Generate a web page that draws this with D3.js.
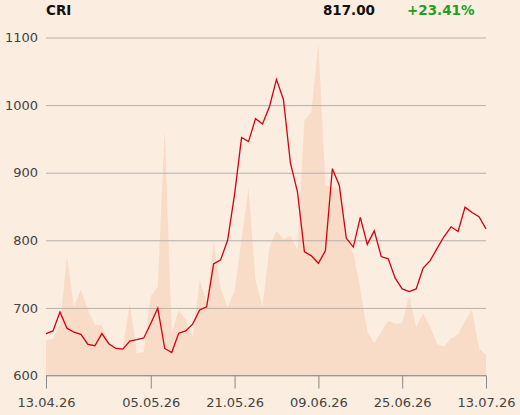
<!DOCTYPE html>
<html><head><meta charset="utf-8">
<script src="https://cdn.jsdelivr.net/npm/d3@7"></script>
<style>html,body{margin:0;padding:0;background:#fbede0;}svg{display:block;}</style>
</head><body>
<script>
const dates = ["13.04.26","14.04.26","15.04.26","16.04.26","17.04.26","20.04.26","21.04.26","22.04.26","23.04.26","24.04.26","27.04.26","28.04.26","29.04.26","30.04.26",
"04.05.26","05.05.26","06.05.26","07.05.26","08.05.26","11.05.26","12.05.26","13.05.26","14.05.26","15.05.26","18.05.26","19.05.26","20.05.26","21.05.26","22.05.26",
"26.05.26","27.05.26","28.05.26","29.05.26","01.06.26","02.06.26","03.06.26","04.06.26","05.06.26","08.06.26","09.06.26","10.06.26","11.06.26","12.06.26",
"15.06.26","16.06.26","17.06.26","18.06.26","19.06.26","22.06.26","23.06.26","24.06.26","25.06.26","26.06.26","29.06.26","30.06.26","01.07.26","02.07.26","03.07.26",
"06.07.26","07.07.26","08.07.26","09.07.26","10.07.26","13.07.26"];
const price = [662,666,694,670,664,661,646,644,662,647,640,639,651,653,655.5,677,699.5,640,634,662.5,666,676,697,701.5,765,771,800,868,952,946,980,972,998,1038,1008,914,872,783,777,766,784.5,906,881,803,790,834,794,814,776,772.6,744,728,724,728,759,770,788,805.6,820,813,849,841,835,817];
const volume = [104,107,149,351,202,254,193,149,146,96,87,81,213,66,69,234,260,722,124,191,165,114,281,217,391,256,201,246,399,551,281,202,377,425,401,410,369,751,776,979,560,555,546,408,359,256,129,95,129,161,152,154,234,142,183,144,93,85,109,121,160,193,80,60];
const yTicks = [600,700,800,900,1000,1100];
const xTickLabels = ["13.04.26","05.05.26","21.05.26","09.06.26","25.06.26","13.07.26"];
const title = "CRI", lastValue = "817.00", change = "+23.41%";

const W=520,H=415, mLeft=46, mRight=486, mTop=37.5, mBottom=375.5;
const svg=d3.select("body").append("svg").attr("width",W).attr("height",H);
svg.append("rect").attr("width",W).attr("height",H).attr("fill","#fbede0");

const x=d3.scaleLinear().domain([0,dates.length-1]).range([mLeft,mRight]);
const y=d3.scaleLinear().domain([600,1100]).range([mBottom,mTop]);
const yv=d3.scaleLinear().domain([0,1000]).range([mBottom,mBottom-340]);

svg.append("path").datum(volume)
 .attr("d",d3.area().x((d,i)=>x(i)).y0(mBottom).y1(d=>yv(d)))
 .attr("fill","#f8dcc7");

const ya=svg.append("g").attr("transform",`translate(${mLeft},0)`)
 .call(d3.axisLeft(y).tickValues(yTicks).tickSize(-(mRight-mLeft)).tickPadding(8).tickFormat(d3.format("d")));
ya.select(".domain").remove();
ya.selectAll(".tick line").attr("stroke","#b4b0ac").attr("stroke-width",1);
ya.selectAll(".tick text").attr("font-family","DejaVu Sans").attr("font-size",13).attr("fill","#444");

svg.append("path").datum(price)
 .attr("d",d3.line().x((d,i)=>x(i)).y(d=>y(d)))
 .attr("fill","none").attr("stroke","#d50010").attr("stroke-width",1.3).attr("stroke-linejoin","miter");

const tickIdx = xTickLabels.map(l=>dates.indexOf(l));
const xa=svg.append("g").attr("transform",`translate(0,${mBottom})`)
 .call(d3.axisBottom(x).tickValues(tickIdx).tickSize(13).tickPadding(9).tickFormat(i=>dates[i]));
xa.select(".domain").attr("stroke","#999").attr("d",`M${mLeft},0H${mRight}`);
xa.selectAll(".tick line").attr("stroke","#888");
xa.selectAll(".tick text").attr("font-family","DejaVu Sans").attr("font-size",13).attr("fill","#444");

svg.append("text").attr("x",46).attr("y",14.5).attr("font-family","DejaVu Sans").attr("font-weight","bold").attr("font-size",13.5).attr("fill","#111").text(title);
svg.append("text").attr("x",375).attr("y",14.5).attr("text-anchor","end").attr("font-family","DejaVu Sans").attr("font-weight","bold").attr("font-size",13.5).attr("fill","#111").text(lastValue);
svg.append("text").attr("x",407).attr("y",14.5).attr("font-family","DejaVu Sans").attr("font-weight","bold").attr("font-size",13.5).attr("fill","#1fa01f").text(change);
</script>
</body></html>
